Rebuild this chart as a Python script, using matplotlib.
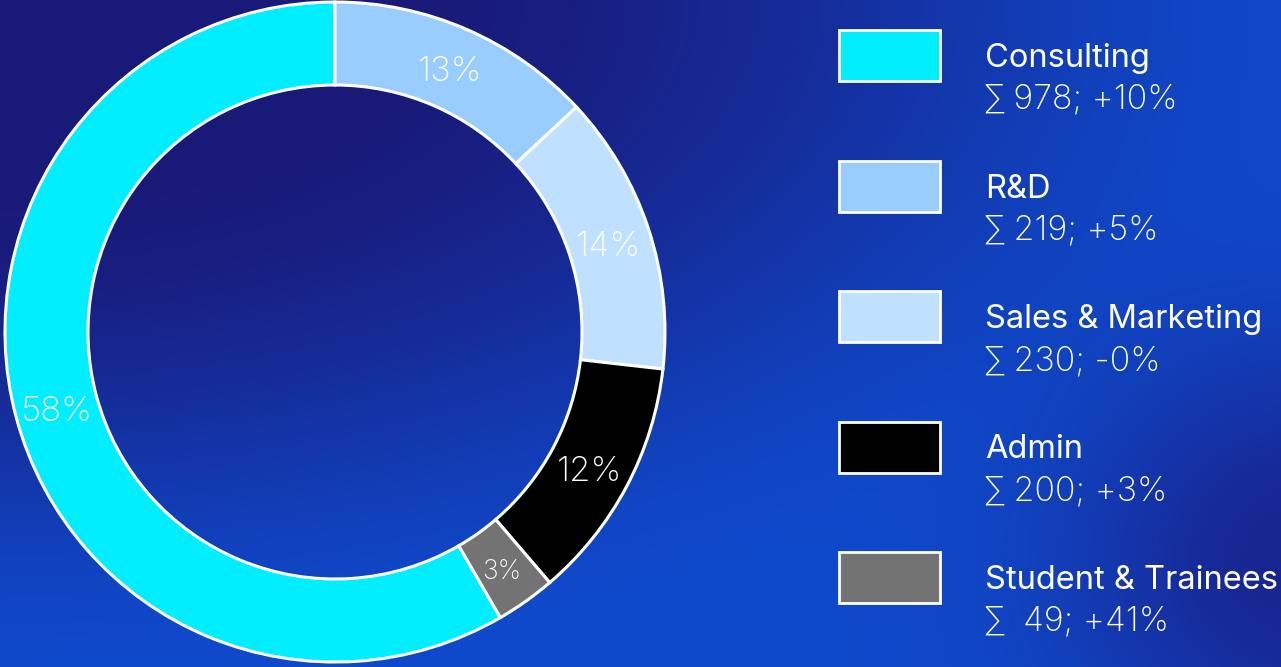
import numpy as np
import matplotlib
matplotlib.use("Agg")
import matplotlib.pyplot as plt
from matplotlib.patches import Rectangle

# ==============================
# DATA
# ==============================
departments = ["Consulting", "R&D", "Sales & Marketing", "Admin", "Student & Trainees"]
headcount = [978, 219, 230, 200, 49]
change = ["+10%", "+5%", "-0%", "+3%", "+41%"]
colors = ["#00EEFF", "#99CCFF", "#C0E0FF", "#000000", "#737373"]

W, H = 1281, 667
DPI = 100
FONT = ["Inter", "DejaVu Sans"]

fig = plt.figure(figsize=(W / DPI, H / DPI), dpi=DPI)

# ==============================
# BACKGROUND GRADIENT
# ==============================
yy, xx = np.mgrid[0:H, 0:W].astype(float)
d = np.sqrt((xx / 2.0) ** 2 + yy ** 2) / 700.0
t = np.clip((d - 0.25) / 0.75, 0, 1)
t = t * t * (3 - 2 * t)
dark = np.array([0.10, 0.10, 0.47])
bright = np.array([0.06, 0.29, 0.80])
img = dark + (bright - dark) * t[..., None]
# darker patch on the lower right
blob = np.exp(-(((xx - 1300) / 230.0) ** 2 + ((yy - 560) / 220.0) ** 2))
navy = np.array([0.10, 0.12, 0.52])
img = img + (navy - img) * (0.85 * blob)[..., None]

bg = fig.add_axes([0, 0, 1, 1])
bg.imshow(img, extent=[0, W, H, 0], aspect="auto", interpolation="bilinear")
bg.set_xlim(0, W)
bg.set_ylim(H, 0)
bg.axis("off")

# ==============================
# DONUT
# ==============================
total = sum(headcount)
R_OUT, R_IN = 330, 247
cx, cy = 335, 332
ax = fig.add_axes([(cx - R_OUT) / W, (H - cy - R_OUT) / H, 2 * R_OUT / W, 2 * R_OUT / H])
ax.set_facecolor("none")
ring = 1 - R_IN / R_OUT
wedges, _, pcts = ax.pie(
    headcount,
    colors=colors,
    startangle=90 + 360 * headcount[0] / total,
    counterclock=False,
    autopct="%.0f%%",
    pctdistance=1 - ring / 2,
    wedgeprops=dict(width=ring, edgecolor="white", linewidth=2.2),
    textprops=dict(color="white", fontsize=25, family=FONT, fontweight="light"),
)
pcts[-1].set_fontsize(19)
for p in pcts:
    x, y = p.get_position()
    p.set_position((x, y - 0.015))
ax.set_xlim(-1, 1)
ax.set_ylim(-1, 1)
ax.set_aspect("equal")

# ==============================
# LEGEND
# ==============================
for i, (name, v, c, col) in enumerate(zip(departments, headcount, change, colors)):
    top = 30 + 130.5 * i
    bg.add_patch(Rectangle((839, top), 101, 51, facecolor=col, edgecolor="white", linewidth=2))
    bg.text(985, top + 37, name, color="white", fontsize=23.5, family=FONT, va="baseline")
    bg.text(985, top + 79, f"\u2211 {v:3d}; {c}", color="white", fontsize=24.5,
            family=FONT, fontweight="light", va="baseline")

fig.savefig("out.png", dpi=DPI)
